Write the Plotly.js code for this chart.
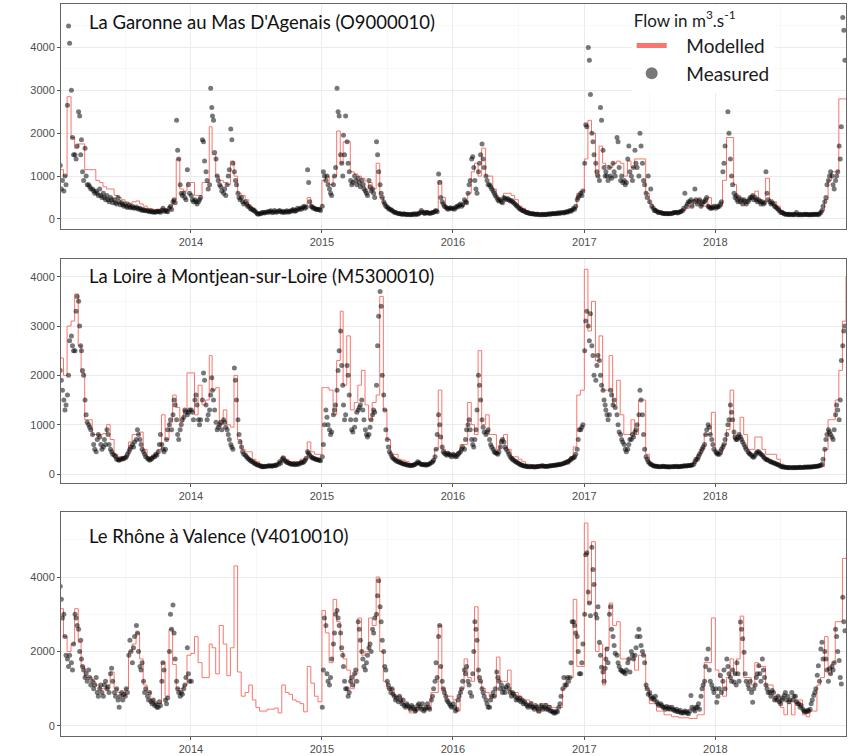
<!DOCTYPE html>
<html><head><meta charset="utf-8">
<script src="https://cdn.plot.ly/plotly-3.0.1.min.js"></script>
<style>html,body{margin:0;padding:0;background:#fff}</style>
</head><body>
<div id="chart" style="width:848px;height:756px"></div>
<script>
// ---------- categories / labels ----------
const years = [2013, 2014, 2015, 2016, 2017, 2018];
const yearTickLabels = ['2014', '2015', '2016', '2017', '2018'];
const stationNames = [
  "La Garonne au Mas D'Agenais (O9000010)",
  "La Loire à Montjean-sur-Loire (M5300010)",
  "Le Rhône à Valence (V4010010)"
];
const legendTitle = 'Flow in m<sup>3</sup>.s<sup>-1</sup>';
const seriesNames = ['Modelled', 'Measured'];

// ---------- modelled flow, one value per 10-day period (36 per year) + end value ----------
const garonneModelled = [
  1150,1000,2850,1900,1650,1750,1750,1150,1150,1150,900,850,750,700,700,550,500,450,400,350,400,420,350,300,250,230,220,230,250,230,300,450,1400,700,650,850,
  850,550,550,850,850,2150,1500,1000,900,850,800,1350,1000,600,550,450,300,250,150,150,150,180,170,180,200,180,200,200,250,220,250,300,500,300,250,250,
  900,1000,800,1000,2050,1300,1800,1800,1100,1050,1000,950,700,850,700,1300,500,350,250,200,150,150,150,140,130,130,140,150,200,170,160,170,890,500,250,250,
  250,300,300,400,600,1100,1300,1000,1650,1000,1000,700,500,450,600,600,550,450,300,250,200,160,150,140,130,130,130,140,140,150,150,170,200,250,600,650,
  1400,2300,2000,1000,1700,1300,1250,1200,1300,1350,1300,1000,1350,1200,1400,1400,1400,600,350,250,200,150,150,150,170,170,180,200,250,300,450,450,300,300,500,250,
  250,300,900,1900,1900,800,500,450,450,450,550,650,450,400,950,450,400,300,200,150,130,120,120,120,120,120,120,120,130,200,450,900,1100,1100,2800,2800,
  2800
];
const loireModelled = [
  2350,2000,3000,3100,3650,2600,2050,1100,1100,800,800,800,820,1000,700,400,350,350,350,650,800,800,850,500,350,350,400,500,1200,700,1050,1600,1350,1050,1300,2050,
  2050,1200,1800,1400,1500,2400,1700,1750,1000,1300,1000,950,2000,700,500,450,450,300,250,200,180,180,180,200,250,350,300,250,250,250,300,300,650,450,400,400,
  1750,1750,1700,1200,2300,3300,1800,2800,1300,1450,1800,2100,1400,1100,1450,1600,3600,1300,700,400,400,300,280,250,200,200,200,200,200,200,250,500,1700,500,450,400,
  400,450,600,600,1450,1000,800,2500,1000,1200,800,800,500,700,800,500,350,350,300,250,200,180,180,180,180,180,180,180,180,180,200,200,350,550,1600,1700,
  4150,2900,3500,2300,2800,1700,1700,2400,1400,1900,1200,800,800,1100,800,1500,1500,400,200,180,160,160,160,160,160,160,160,160,160,160,250,400,500,800,800,1250,
  400,400,600,900,1700,700,700,1150,800,500,500,750,750,500,400,400,400,300,200,150,150,150,150,150,150,150,150,150,150,150,500,1100,1100,1500,2100,3100,
  4000
];
const rhoneModelled = [
  3150,2400,2000,2200,3150,2250,1600,1300,1300,1200,1100,1000,1000,1100,1450,1000,900,800,1000,2000,2200,2500,1800,1100,900,700,600,600,1700,800,2600,1650,1000,1000,1100,1900,
  1950,2400,1700,1300,1300,2200,2100,1400,2700,2200,1350,2100,4300,1450,800,900,1100,700,500,400,400,450,450,480,350,1100,900,850,700,650,600,380,1600,1150,800,650,
  3100,2500,1700,3400,2800,2000,1800,1500,1000,1400,2900,1900,2000,2900,2700,4000,2000,1200,1000,1000,800,800,600,500,350,350,500,500,450,450,900,900,2700,1000,800,800,
  700,400,1000,1800,1300,1200,3200,1200,1000,900,800,800,1850,1200,1200,1500,900,900,800,700,700,650,500,350,600,600,550,500,500,500,1000,1300,1300,3400,1600,1600,
  5450,3300,4950,2000,2200,1100,2100,3300,2700,2800,1800,1800,1800,1800,1500,1900,1900,1000,600,600,400,400,300,300,250,250,220,220,220,200,200,300,300,1700,1700,2900,
  1500,1300,800,1300,1800,1400,1800,2950,1300,1300,1100,1700,1600,1600,1100,1100,800,800,500,300,600,300,700,700,300,250,400,400,1100,1300,2400,1400,1700,2800,2800,4500,
  4500
];

// ---------- measured flow, three readings per 10-day period ----------
const garonneMeasured = [
  1250,700,900,650,1000,800,2650,4500,4100,3000,1900,1500,1500,1400,1700,2500,2400,1500,1850,1100,900,1650,1000,800,800,750,700,700,650,600,650,600,550,700,550,500,600,500,450,550,450,400,500,450,380,450,380,350,500,400,330,380,330,300,350,300,270,330,280,260,300,260,250,280,250,230,250,220,200,220,200,190,200,180,170,190,170,160,170,160,180,180,170,160,200,250,180,200,180,170,250,300,220,400,450,380,2300,1600,1400,800,600,550,600,500,450,1150,800,600,
  550,450,400,450,400,350,400,450,500,1850,1800,1350,1100,900,700,800,3050,2600,2400,2300,1550,1400,1000,900,800,750,650,600,700,550,800,1000,1150,2100,1850,1300,1100,900,800,600,500,450,500,400,350,400,350,300,300,250,230,220,200,180,150,120,110,130,120,150,150,140,160,170,150,180,190,160,150,200,170,160,180,200,170,160,180,150,170,190,160,180,170,200,220,190,180,200,250,220,250,230,270,300,250,280,1150,850,400,300,280,250,250,230,220,230,220,200,
  300,1100,1000,900,1000,800,700,600,550,800,1000,1200,3050,2500,2400,1500,1300,1000,1950,1500,2400,1800,1300,1100,900,800,850,1000,900,800,950,850,750,900,800,700,650,600,550,900,750,650,700,600,500,1800,1500,1100,800,600,500,400,350,300,280,250,230,220,200,180,160,150,140,130,120,120,110,110,120,110,100,110,100,110,100,110,120,100,120,110,130,150,200,160,140,130,150,150,140,130,140,150,160,180,200,170,1050,850,500,400,350,300,280,250,230,250,260,240,
  250,230,270,300,280,320,350,300,330,450,400,380,600,800,900,1400,1450,1200,900,700,600,1100,1300,1500,1750,1400,1200,1000,900,800,800,750,700,650,600,550,500,450,420,450,400,380,500,480,450,480,450,420,430,400,380,350,320,300,260,240,220,200,190,180,160,150,140,130,120,120,120,110,110,110,110,100,100,110,100,110,100,110,110,120,110,120,130,120,130,120,140,140,130,150,150,140,160,170,160,180,200,180,210,250,230,300,450,500,550,600,550,650,
  1300,2200,2150,4000,3700,2900,2000,1800,1500,1300,1100,1000,900,2600,2300,1600,1200,1000,1100,1000,900,1200,1000,950,1300,1100,1000,1900,1800,1200,900,1000,850,900,800,850,1400,1700,1100,1000,900,1200,1600,1300,1200,1000,2000,1700,1300,900,800,600,500,1000,400,700,300,250,200,200,180,160,150,150,140,130,130,120,130,120,130,120,130,140,150,150,160,140,160,170,180,200,250,600,300,350,400,400,450,300,400,700,450,350,400,450,300,350,400,400,450,500,300,280,250,250,270,300,
  250,300,280,300,350,400,1100,1300,1700,3000,2500,2000,1400,1000,800,600,500,550,450,400,500,400,450,350,450,400,350,400,450,500,500,550,450,500,450,400,450,400,350,400,350,380,1100,600,450,400,350,380,350,300,280,250,230,200,160,150,140,120,110,110,110,100,110,100,110,100,110,150,100,100,110,100,100,110,105,110,105,100,100,110,100,110,105,110,110,100,120,150,200,300,400,500,800,900,1000,1100,1000,800,700,900,1000,1100,1700,1400,2150,4700,4400,3700
];
const loireMeasured = [
  2100,1900,1700,1500,1300,1400,1600,2000,2700,2800,2600,2500,2500,3300,3600,3500,3000,2600,2500,2100,2000,1500,1200,1050,1000,950,900,800,600,500,450,700,800,750,600,500,550,700,600,900,800,600,500,450,400,380,350,300,290,280,300,300,320,310,330,350,400,450,500,550,600,550,650,700,900,800,700,600,500,450,400,350,320,300,280,300,320,350,350,400,380,450,600,800,600,500,450,500,700,900,1000,1100,900,1200,1500,1400,1100,800,700,900,1000,1100,1150,1300,1250,1200,1250,1300,
  1300,1250,1100,1500,1600,1400,1100,1000,1100,1500,2050,1900,1400,1100,1200,1300,1600,1950,1700,1500,1300,1050,900,950,1000,1050,900,1100,1050,950,900,800,700,600,550,500,2150,1900,1500,1100,800,650,550,450,400,380,350,320,300,280,260,250,230,210,200,190,180,170,160,150,150,160,155,160,170,165,170,160,170,180,170,190,200,250,220,300,330,280,260,240,230,220,210,200,200,210,190,200,210,200,220,240,230,250,280,320,450,420,380,350,330,320,310,300,290,290,280,270,
  350,600,1000,1300,1150,1000,900,800,850,1200,1300,1400,1700,2100,2500,2900,2200,1800,1400,1100,1200,2200,2000,1600,1100,900,850,950,1100,1250,1300,1350,1400,1500,1300,1100,900,800,750,800,950,1100,1200,1300,1250,1800,2600,3200,3700,3400,2000,1600,1300,900,700,550,450,400,350,320,300,280,260,250,240,230,220,210,200,200,190,180,180,170,180,180,190,200,220,250,230,210,200,190,190,200,180,190,200,210,230,250,280,350,500,800,1200,1000,750,550,450,420,400,380,420,400,380,350,
  400,380,350,360,400,420,450,500,550,500,700,900,1000,1100,900,700,600,550,700,900,1300,2000,1800,1500,1100,950,850,800,850,900,700,600,550,500,450,430,420,400,450,550,650,700,650,550,500,450,400,350,320,300,280,260,250,230,220,200,190,180,170,165,160,155,150,150,150,155,150,145,150,150,155,160,160,170,165,160,155,160,160,165,170,170,175,180,180,185,190,190,200,200,210,220,230,240,250,260,280,300,320,330,350,400,500,700,900,900,950,1000,
  2500,3100,3300,3000,2700,3250,2600,2400,2000,1900,2200,2400,2300,2000,1800,1700,1500,1400,1300,1200,1100,1200,1700,1600,1400,1500,1350,1200,1000,850,800,700,650,600,500,450,500,600,700,700,800,750,850,900,1000,1200,1700,1500,1200,800,500,350,300,250,220,200,190,170,165,160,160,155,150,150,155,160,155,150,150,150,145,150,150,155,150,155,160,150,150,155,160,160,165,170,165,170,175,175,180,185,200,250,300,300,350,400,450,500,550,600,800,900,1000,950,800,700,600,500,
  450,420,400,400,450,500,550,600,700,800,1000,1100,1400,1250,1100,850,750,700,700,750,800,750,700,650,600,550,500,450,420,400,380,350,340,380,420,450,450,420,400,380,350,320,300,290,280,260,250,240,230,220,210,200,190,180,160,150,145,140,135,130,130,125,130,125,130,125,130,125,130,130,135,130,130,135,140,135,140,145,140,145,150,150,155,160,160,165,170,180,200,300,500,700,800,900,850,800,750,700,900,1200,1400,1300,1100,1500,2300,2600,2900,3000
];
const rhoneMeasured = [
  3750,3400,2900,3000,2400,1900,1800,1600,1900,1700,1500,2200,3000,2900,2700,2600,2000,2300,1800,1600,1500,1300,1400,1200,1500,1300,1100,1200,1000,1100,1300,900,800,1000,1100,900,800,1100,1200,1000,1050,900,1400,1550,1200,900,800,1000,700,500,800,900,700,850,800,1000,900,1900,2300,2000,1700,2100,2400,2700,2500,2000,1600,1500,1700,1200,900,1000,800,700,900,650,600,700,550,600,500,500,650,550,1200,1700,1500,700,600,750,2000,3000,2600,3250,2500,1800,1200,1000,900,800,900,850,1000,1100,1300,2100,1400,1200,
  1200,null,null,null,null,null,null,null,null,null,null,null,null,null,null,null,null,null,null,null,null,null,null,null,null,null,null,null,null,null,null,null,null,null,null,null,
  null,null,null,null,null,null,null,null,null,null,null,null,null,null,null,null,null,null,null,null,null,null,null,null,null,null,null,null,null,null,null,null,null,null,null,null,
  null,null,null,null,null,null,null,null,null,null,null,null,null,null,null,null,null,null,null,null,null,null,null,null,null,null,null,null,null,null,null,null,null,null,null,null,
  500,1500,2900,2700,1400,1200,1100,1300,1800,2200,2500,3000,3100,2900,2700,2500,2100,1900,1600,1200,1000,1000,800,900,1200,1300,1100,1400,1500,1200,2800,2600,2300,2000,1800,1600,1500,1700,1900,2100,2200,2000,2600,2500,2900,3000,3500,3900,3200,2800,2300,2000,1600,1500,1200,1100,1000,900,1000,850,800,700,750,650,800,700,600,700,550,500,600,550,500,450,550,500,450,400,450,550,600,500,450,600,400,450,500,600,500,450,700,800,1000,1200,1700,1300,2400,2700,1600,1200,1000,900,800,700,650,600,550,500,
  600,500,400,450,700,800,900,1000,1200,1500,1400,1600,1200,1100,900,800,1400,2000,2800,2600,2300,1500,1300,1200,1000,900,800,700,600,500,500,700,800,900,800,1000,1450,1300,1200,1000,1100,900,1000,900,1050,1100,1000,900,800,900,850,800,700,750,700,750,650,700,600,650,600,550,500,550,600,500,500,450,550,500,450,400,550,500,450,500,550,450,450,500,400,400,380,350,350,400,380,500,600,800,1000,1300,1100,1100,1300,1200,1300,1700,2800,2800,2700,2500,2400,2000,1400,1400,1700,2200,
  3000,4600,4650,3600,3300,2960,4800,4200,3800,3000,2900,3200,2250,1900,1580,1450,1200,1550,1800,2070,1700,3000,3200,2600,2400,2160,1950,1900,1700,1600,1500,1490,1450,1450,1400,1500,1700,1800,1450,2000,1900,1800,1900,2100,2400,2600,2400,2160,2000,1900,1700,1100,1000,850,900,800,730,750,700,800,650,600,550,600,550,500,500,450,520,460,500,450,500,450,420,400,450,380,380,420,350,370,350,400,380,350,330,400,820,500,450,400,500,500,600,450,800,1000,1100,1200,1600,1800,2070,1500,1200,1100,1000,900,
  1000,640,800,1000,1360,900,1200,1500,1000,1800,1600,1400,1300,1200,1500,1180,1400,1100,1700,1400,1200,2790,2600,2340,1980,1400,1200,1100,1000,1200,900,640,1000,1100,1300,1400,1620,1400,1200,1800,1500,1300,1100,1000,900,900,800,950,900,700,750,700,800,650,600,700,750,820,900,700,800,650,700,900,700,800,800,650,600,600,500,550,450,400,380,375,420,400,450,600,700,820,900,1000,1360,1620,1200,2070,2250,1800,2000,1800,1500,1200,1540,1400,1600,1500,1700,2600,2400,2000,1760,1300,1130,3460,2800,2560
];

// ---------- dates built from the calendar (10-day periods) ----------
function pad(n) { return String(n).padStart(2, '0'); }
const periodStarts = [];
const readingDates = [];
years.forEach(y => {
  for (let m = 1; m <= 12; m++) {
    [1, 11, 21].forEach(d => {
      periodStarts.push(y + '-' + pad(m) + '-' + pad(d));
      [1, 4, 7].forEach(o => readingDates.push(y + '-' + pad(m) + '-' + pad(d + o)));
    });
  }
});
const modelledDates = periodStarts.concat(['2018-12-31']);

const panels = [
  {mod: garonneModelled, meas: garonneMeasured, range: [-233, 5005], major: [0,1000,2000,3000,4000], minor: [500,1500,2500,3500,4500], dom: [0.6971, 0.9943], ty: 0.9713},
  {mod: loireModelled,   meas: loireMeasured,   range: [-182, 4352], major: [0,1000,2000,3000,4000], minor: [500,1500,2500,3500], dom: [0.3611, 0.6570], ty: 0.6349},
  {mod: rhoneModelled,   meas: rhoneMeasured,   range: [-276, 5751], major: [0,2000,4000], minor: [1000,3000,5000], dom: [0.0261, 0.3230], ty: 0.2914}
];

const RED = '#F8766D';
const GAP = '\u00a0\u00a0\u00a0';
const traces = [];
const layout = {
  width: 848, height: 756,
  margin: {l: 61, r: 2, t: 0, b: 0},
  paper_bgcolor: '#fff', plot_bgcolor: '#fff',
  showlegend: true,
  legend: {
    x: 0.727, y: 0.994, xanchor: 'left', yanchor: 'top',
    bgcolor: '#fff', borderwidth: 0,
    font: {family: 'Lato, Open Sans, sans-serif', size: 19, color: '#1a1a1a'},
    title: {text: legendTitle, font: {family: 'Lato, Open Sans, sans-serif', size: 17, color: '#1a1a1a'}},
    itemsizing: 'constant', tracegroupgap: 0
  },
  annotations: []
};

const yearTicks = yearTickLabels.map(y => y + '-01-01');
const midYears = years.map(y => y + '-07-02');

panels.forEach((p, i) => {
  const xa = i === 0 ? 'x' : 'x' + (i + 1);
  const ya = i === 0 ? 'y' : 'y' + (i + 1);
  traces.push({
    type: 'scatter', mode: 'lines', x: modelledDates, y: p.mod,
    xaxis: xa, yaxis: ya, name: GAP + seriesNames[0], legendgroup: 'mod', showlegend: i === 0,
    line: {color: RED, width: 1, shape: 'hv'}, hoverinfo: 'skip'
  });
  traces.push({
    type: 'scatter', mode: 'markers', x: readingDates, y: p.meas,
    xaxis: xa, yaxis: ya, name: GAP + seriesNames[1], legendgroup: 'meas', showlegend: i === 0,
    marker: {color: 'rgba(10,10,10,0.55)', size: 5, line: {width: 0}}, hoverinfo: 'skip'
  });
  const common = {
    showline: true, linecolor: '#666', linewidth: 1, mirror: true,
    ticks: 'outside', ticklen: 3, tickcolor: '#555', tickwidth: 1,
    tickfont: {family: 'Liberation Sans, Arial, sans-serif', size: 11, color: '#4d4d4d'},
    showgrid: true, gridcolor: '#ebebeb', gridwidth: 1, zeroline: false
  };
  layout[i === 0 ? 'xaxis' : 'xaxis' + (i + 1)] = Object.assign({}, common, {
    type: 'date', anchor: ya, domain: [0, 1],
    range: ['2013-01-04', '2018-12-31'],
    tickmode: 'array', tickvals: yearTicks, ticktext: yearTickLabels,
    minor: {tickmode: 'array', tickvals: midYears, showgrid: true, gridcolor: '#f4f4f4', gridwidth: 0.6, ticks: ''}
  });
  layout[i === 0 ? 'yaxis' : 'yaxis' + (i + 1)] = Object.assign({}, common, {
    anchor: xa, domain: p.dom, range: p.range,
    tickmode: 'array', tickvals: p.major, ticktext: p.major.map(String),
    minor: {tickmode: 'array', tickvals: p.minor, showgrid: true, gridcolor: '#f4f4f4', gridwidth: 0.6, ticks: ''}
  });
  layout.annotations.push({
    xref: 'paper', yref: 'paper', x: 0.0325, y: p.ty, xanchor: 'left', yanchor: 'middle',
    text: stationNames[i], showarrow: false,
    font: {family: 'Lato, Open Sans, sans-serif', size: 18.5, color: '#111'}
  });
});

Plotly.newPlot('chart', traces, layout, {displayModeBar: false, staticPlot: true});
</script>
</body></html>
